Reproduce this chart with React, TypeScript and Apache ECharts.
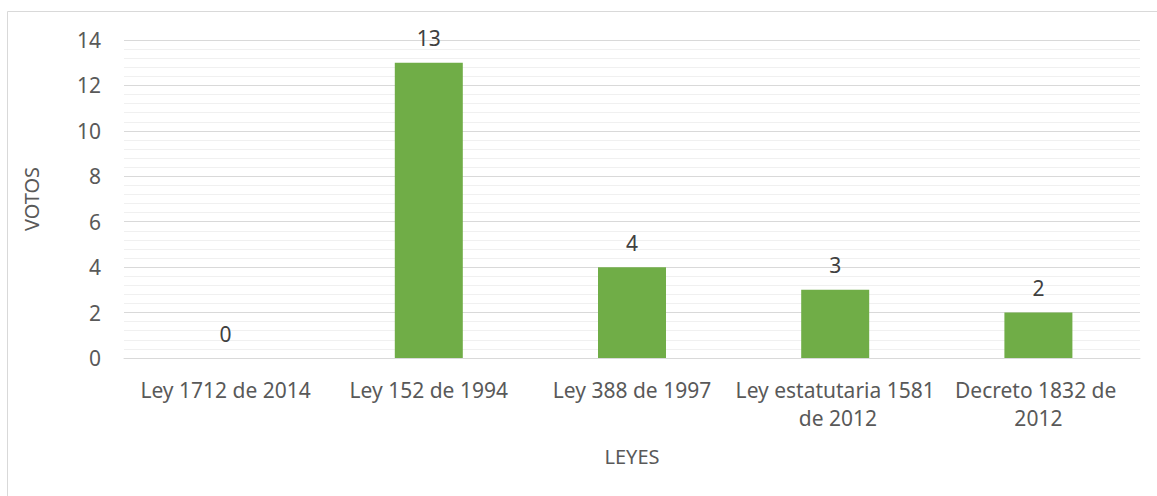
import React, { useEffect, useRef } from "react";
import * as echarts from "echarts";

const categories = [
  "Ley 1712 de 2014",
  "Ley 152 de 1994",
  "Ley 388 de 1997",
  "Ley estatutaria 1581 de 2012",
  "Decreto 1832 de 2012",
];
const votes = [0, 13, 4, 3, 2];
const yTicks = { min: 0, max: 14, interval: 2 };
const xAxisName = "LEYES";
const yAxisName = "VOTOS";

const FONT = "'Noto Sans', 'Open Sans', sans-serif";

export default function App() {
  const ref = useRef<HTMLDivElement>(null);
  useEffect(() => {
    if (!ref.current) return;
    const chart = echarts.init(ref.current, undefined, { renderer: "svg" });
    chart.setOption({
      animation: false,
      backgroundColor: "#ffffff",
      textStyle: { fontFamily: FONT },
      graphic: [
        {
          type: "rect",
          shape: { x: 7.5, y: 11.5, width: 1160, height: 500 },
          style: { fill: "none", stroke: "#d9d9d9", lineWidth: 1 },
          silent: true,
        },
      ],
      grid: { left: 124, right: 17, top: 40, bottom: 138 },
      xAxis: {
        type: "category",
        data: categories,
        name: xAxisName,
        nameLocation: "middle",
        nameGap: 88,
        nameTextStyle: { color: "#595959", fontSize: 20, fontFamily: FONT },
        axisLine: { lineStyle: { color: "#d9d9d9", width: 1 } },
        axisTick: { show: false },
        axisLabel: {
          color: "#595959",
          fontSize: 21,
          fontFamily: FONT,
          margin: 18,
          lineHeight: 28,
          width: 202,
          overflow: "break",
          interval: 0,
        },
      },
      yAxis: {
        type: "value",
        min: yTicks.min,
        max: yTicks.max,
        interval: yTicks.interval,
        name: yAxisName,
        nameLocation: "middle",
        nameGap: 83,
        nameRotate: 90,
        nameTextStyle: { color: "#595959", fontSize: 20, fontFamily: FONT },
        axisLine: { show: false },
        axisTick: { show: false },
        axisLabel: { color: "#595959", fontSize: 21, fontFamily: FONT, margin: 23 },
        splitLine: { lineStyle: { color: "#d9d9d9", width: 1 } },
        minorTick: { show: false, splitNumber: 5 },
        minorSplitLine: { show: true, lineStyle: { color: "#f0f0f0", width: 1 } },
      },
      series: [
        {
          type: "bar",
          data: votes,
          barWidth: 68,
          itemStyle: { color: "#70ad47" },
          label: {
            show: true,
            position: "top",
            distance: 14,
            color: "#404040",
            fontSize: 21,
            fontFamily: FONT,
          },
        },
      ],
    });
    return () => chart.dispose();
  }, []);
  return (
    <div
      ref={ref}
      style={{ position: "absolute", left: 0, top: 0, width: 1157, height: 496 }}
    />
  );
}
